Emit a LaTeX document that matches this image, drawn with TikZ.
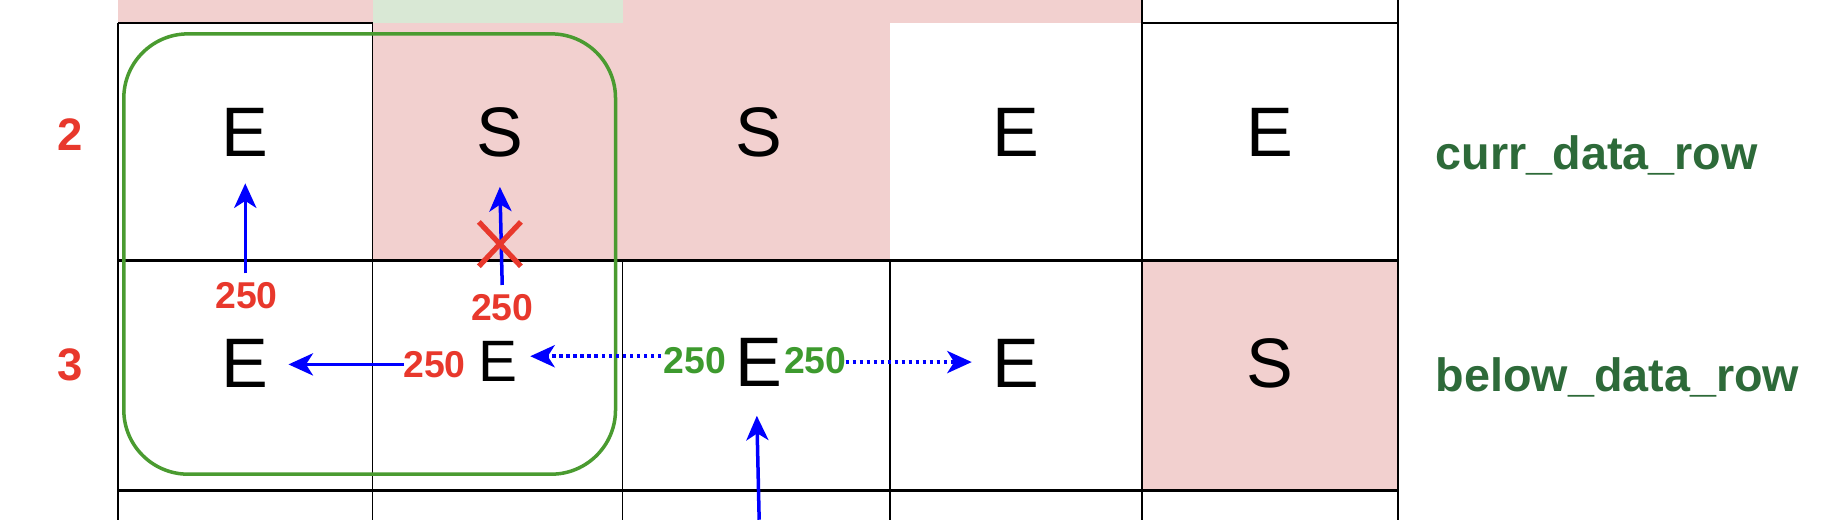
\documentclass[tikz,border=0pt]{standalone}
\usepackage{fontspec}
\setmainfont{Liberation Sans}
\usetikzlibrary{arrows.meta}
\definecolor{cellpink}{HTML}{F2D0CF}
\definecolor{cellgreen}{HTML}{D9E8D5}
\definecolor{numred}{HTML}{E8382C}
\definecolor{numgreen}{HTML}{3D9A2E}
\definecolor{labgreen}{HTML}{2D6A39}
\definecolor{boxgreen}{HTML}{4A9B30}
\definecolor{arrblue}{HTML}{0000FF}
\tikzset{
  gridline/.style={line width=1.5pt, black},
  thickgrid/.style={line width=2.2pt, black},
  letter/.style={inner sep=0pt, anchor=base, font=\fontsize{60}{60}\selectfont},
  smallletter/.style={inner sep=0pt, anchor=base, font=\fontsize{50}{50}\selectfont},
  rowlab/.style={inner sep=0pt, anchor=base, text=numred, font=\fontsize{39}{39}\selectfont\bfseries},
  rednum/.style={inner sep=0pt, anchor=base, text=numred, font=\fontsize{32}{32}\selectfont\bfseries},
  greennum/.style={inner sep=0pt, anchor=base, text=numgreen, font=\fontsize{32}{32}\selectfont\bfseries},
  datalab/.style={inner sep=0pt, anchor=base west, text=labgreen, font=\fontsize{40}{40}\selectfont\bfseries},
  bluearrow/.style={line width=3pt, arrblue, -{Stealth[length=21pt,width=19pt,inset=6pt]}},
  dotarrow/.style={line width=3pt, arrblue, dash pattern=on 3pt off 3pt, -{Stealth[length=21pt,width=19pt,inset=6pt]}},
  groupbox/.style={line width=3pt, boxgreen, rounded corners=55pt},
  xmark/.style={line width=4.5pt, numred}
}
\begin{document}
\begin{tikzpicture}[x=1pt,y=-1pt]
\useasboundingbox (0,0) rectangle (1560,445);
% fills
\fill[cellpink] (101,0) rectangle (978,223);
\fill[white] (101,20) rectangle (319,223);
\fill[white] (762,20) rectangle (978,223);
\fill[cellgreen] (319,0) rectangle (533,20);
\fill[cellpink] (978,223) rectangle (1197,420);
% grid lines
\draw[gridline] (101,20) -- (319,20);
\draw[gridline] (978,20) -- (1197,20);
\draw[thickgrid] (101,223) -- (1197,223);
\draw[thickgrid] (101,420) -- (1197,420);
\draw[gridline] (101,20) -- (101,445);
\draw[gridline] (319,20) -- (319,445);
\draw[gridline] (533,223) -- (533,445);
\draw[gridline] (762,223) -- (762,445);
\draw[gridline] (978,0) -- (978,445);
\draw[gridline] (1197,0) -- (1197,445);
% row labels
\node[rowlab] (r2) at (60,128.5) {2};
\node[rowlab] (r3) at (60,326) {3};
% letters row 2
\node[letter] (a2) at (210,134) {E};
\node[letter] (b2) at (428,134) {S};
\node[letter] (c2) at (650,134) {S};
\node[letter] (d2) at (870,134) {E};
\node[letter] (e2) at (1087,134) {E};
% letters row 3
\node[letter] (a3) at (210,331.5) {E};
\node[smallletter] (b3) at (426,327) {E};
\node[letter] (c3) at (650,331) {E};
\node[letter] (d3) at (870,331.5) {E};
\node[letter] (e3) at (1087,331.5) {S};
% data row labels
\node[datalab] (curr) at (1229,145.5) {curr\_data\_row};
\node[datalab] (below) at (1229,335) {below\_data\_row};
% green group box
\draw[groupbox] (106,29) rectangle (527,406);
% numbers
\node[rednum] (n1) at (211,264) {250};
\node[rednum] (n2) at (430,274) {250};
\node[rednum] (n3) at (372,323) {250};
\node[greennum] (g1) at (595,320) {250};
\node[greennum] (g2) at (698,320) {250};
% arrow coordinates
\coordinate (p1s) at (210,234);
\coordinate (p1e) at (210,157);
\coordinate (p2s) at (430,244);
\coordinate (p2e) at (428,160);
\coordinate (p3s) at (346,312);
\coordinate (p3e) at (247,312);
\coordinate (p4s) at (566,305);
\coordinate (p4e) at (454,305);
\coordinate (p5s) at (724,310);
\coordinate (p5e) at (832,310);
\coordinate (p6s) at (650,445);
\coordinate (p6e) at (648,356);
\coordinate (xc) at (428,209);
% arrows
\draw[bluearrow] (p1s) -- (p1e);
\draw[bluearrow] (p2s) -- (p2e);
\draw[bluearrow] (p3s) -- (p3e);
\draw[dotarrow] (p4s) -- (p4e);
\draw[dotarrow] (p5s) -- (p5e);
\draw[bluearrow] (p6s) -- (p6e);
% red cross
\draw[xmark] ([shift={(-18,-19)}]xc) -- ([shift={(18,19)}]xc);
\draw[xmark] ([shift={(18,-19)}]xc) -- ([shift={(-18,19)}]xc);
\end{tikzpicture}
\end{document}
